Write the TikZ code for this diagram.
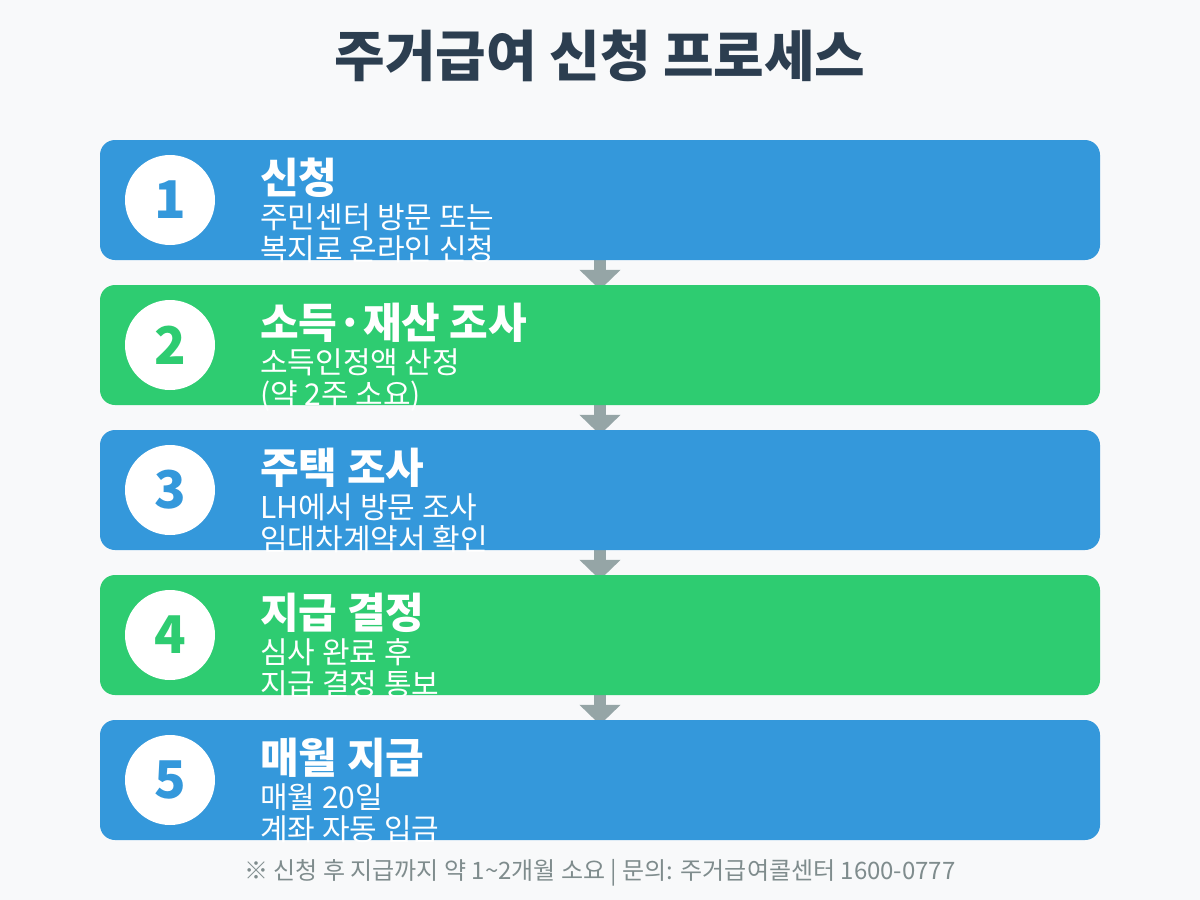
\documentclass[tikz,border=0pt]{standalone}
\usepackage{fontspec}
\setmainfont{Noto Sans CJK KR}
\usetikzlibrary{arrows.meta}
\pgfdeclarelayer{canvas}
\pgfdeclarelayer{background}
\pgfsetlayers{canvas,background,main}
\definecolor{bg}{HTML}{F8F9FA}
\definecolor{stepblue}{HTML}{3498DB}
\definecolor{stepgreen}{HTML}{2ECC71}
\definecolor{titlec}{HTML}{2C3E50}
\definecolor{footc}{HTML}{7F8C8D}
\definecolor{arrowc}{HTML}{95A5A6}
\tikzset{
  stepbox/.style={rounded corners=15pt, minimum width=1000pt, minimum height=120pt, inner sep=0pt, draw=none},
  numcircle/.style={circle, fill=white, minimum size=90pt, inner sep=0pt, font=\fontsize{52}{56}\selectfont\bfseries},
  steptitle/.style={anchor=base west, inner sep=0pt, text=white, font=\fontsize{42}{46}\selectfont\bfseries},
  stepdesc/.style={anchor=base west, inner sep=0pt, text=white, font=\fontsize{30}{34}\selectfont},
  flowarrow/.style={draw=arrowc, line width=12pt, -{Triangle[width=40pt,length=20pt]}}
}
\begin{document}
\begin{tikzpicture}[x=1pt,y=-1pt]
\begin{pgfonlayer}{canvas}
\fill[bg] (0,0) rectangle (1200,900);
\end{pgfonlayer}
\useasboundingbox (0,0) rectangle (1200,900);
\node[anchor=base, inner sep=0pt, text=titlec, font=\fontsize{55}{60}\selectfont\bfseries] (title) at (600,76) {주거급여 신청 프로세스};

\foreach \i/\col/\ttl/\la/\lb in {
  1/stepblue/신청/주민센터 방문 또는/복지로 온라인 신청,
  2/stepgreen/소득·재산 조사/소득인정액 산정/(약 2주 소요),
  3/stepblue/주택 조사/LH에서 방문 조사/임대차계약서 확인,
  4/stepgreen/지급 결정/심사 완료 후/지급 결정 통보,
  5/stepblue/매월 지급/매월 20일/계좌 자동 입금}{
  \pgfmathsetmacro{\top}{140+145*(\i-1)}
  \node[stepbox, fill=\col] (b\i) at (600,\top+60) {};
  \node[numcircle, text=\col] (n\i) at (170,\top+60) {\i};
  \node[steptitle] (t\i) at (260,\top+53) {\ttl};
  \node[stepdesc] (da\i) at (260,\top+88) {\la};
  \node[stepdesc] (db\i) at (260,\top+120) {\lb};
}
\begin{pgfonlayer}{background}
\foreach \i/\j in {1/2,2/3,3/4,4/5}{
  \draw[flowarrow] (b\i.south) -- ([yshift=-5pt]b\j.north);
}
\end{pgfonlayer}
\node[anchor=base, inner sep=0pt, text=footc, font=\fontsize{24}{28}\selectfont] (foot) at (600,879) {※ 신청 후 지급까지 약 1\textasciitilde 2개월 소요 | 문의: 주거급여콜센터 1600-0777};
\end{tikzpicture}
\end{document}
